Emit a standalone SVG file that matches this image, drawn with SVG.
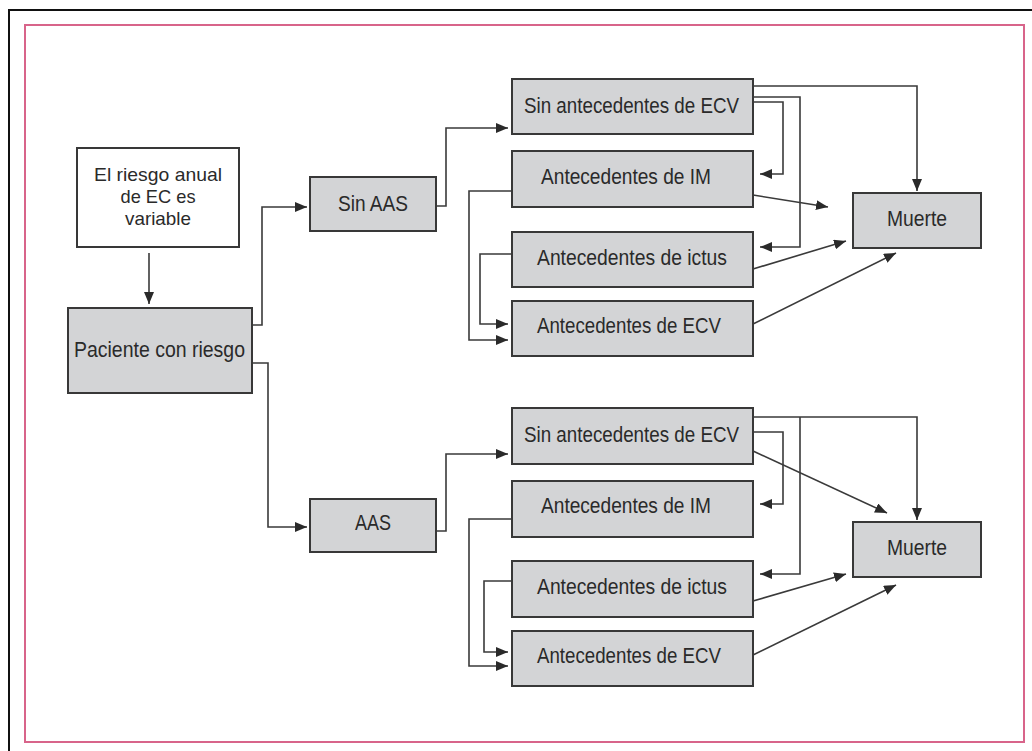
<svg xmlns="http://www.w3.org/2000/svg" width="1032" height="751" viewBox="0 0 1032 751">
<defs>
<style>
.box{fill:#d3d4d6;stroke:#383838;stroke-width:2}
.wbox{fill:#ffffff;stroke:#383838;stroke-width:2}
.t{font-family:"Liberation Sans",Arial,sans-serif;font-size:22px;fill:#2a2a2a;text-anchor:middle}
.s{font-size:19px}
.c{fill:none;stroke:#3a3a3a;stroke-width:1.6}
</style>
<marker id="ah" markerUnits="userSpaceOnUse" markerWidth="13" markerHeight="10" refX="12" refY="5" orient="auto">
<path d="M0,0 L12,5 L0,10 Z" fill="#2a2a2a"/>
</marker>
</defs>
<rect x="0" y="0" width="1032" height="751" fill="#ffffff"/>
<path d="M9,751 V10 H1032" fill="none" stroke="#111" stroke-width="2"/>
<rect x="25" y="25" width="999" height="717" fill="none" stroke="#d8648a" stroke-width="2"/>

<g id="connectors">
<path class="c" marker-end="url(#ah)" d="M149 253 V304"/>
<path class="c" marker-end="url(#ah)" d="M252 325 H262 V207 H307"/>
<path class="c" marker-end="url(#ah)" d="M252 363 H268 V527 H307"/>
<path class="c" marker-end="url(#ah)" d="M436 206 H446 V128 H508"/>
<path class="c" marker-end="url(#ah)" d="M753 86 H917 V191"/>
<path class="c" marker-end="url(#ah)" d="M753 97 H800 V247 H760"/>
<path class="c" marker-end="url(#ah)" d="M753 102 H783 V174 H760"/>
<path class="c" marker-end="url(#ah)" d="M753 195 L828 207"/>
<path class="c" marker-end="url(#ah)" d="M753 269 L846 241"/>
<path class="c" marker-end="url(#ah)" d="M753 324 L896 253"/>
<path class="c" marker-end="url(#ah)" d="M512 191 H469 V340 H508"/>
<path class="c" marker-end="url(#ah)" d="M512 254 H480 V324 H508"/>

<path class="c" marker-end="url(#ah)" d="M436 531 H446 V454 H508"/>
<path class="c" marker-end="url(#ah)" d="M753 417 H917 V520"/>
<path class="c" marker-end="url(#ah)" d="M800 417 V574 H760"/>
<path class="c" marker-end="url(#ah)" d="M753 432 H783 V504 H760"/>
<path class="c" marker-end="url(#ah)" d="M753 451 L887 513"/>
<path class="c" marker-end="url(#ah)" d="M753 601 L846 574"/>
<path class="c" marker-end="url(#ah)" d="M753 655 L896 585"/>
<path class="c" marker-end="url(#ah)" d="M512 519 H469 V666 H508"/>
<path class="c" marker-end="url(#ah)" d="M512 581 H484 V652 H508"/>
</g>

<g id="n-riesgo">
<rect class="wbox" x="77" y="148" width="162" height="99"/>
<text class="t s" x="158" y="181" textLength="128" lengthAdjust="spacingAndGlyphs">El riesgo anual</text>
<text class="t s" x="158" y="203" textLength="75" lengthAdjust="spacingAndGlyphs">de EC es</text>
<text class="t s" x="158" y="225" textLength="66" lengthAdjust="spacingAndGlyphs">variable</text>
</g>
<g id="n-paciente">
<rect class="box" x="68" y="308" width="184" height="85"/>
<text class="t" x="159.5" y="357" textLength="171" lengthAdjust="spacingAndGlyphs">Paciente con riesgo</text>
</g>
<g id="n-sinaas">
<rect class="box" x="310" y="177" width="126" height="54"/>
<text class="t" x="373" y="211" textLength="70" lengthAdjust="spacingAndGlyphs">Sin AAS</text>
</g>
<g id="n-aas">
<rect class="box" x="310" y="499" width="126" height="53"/>
<text class="t" x="373" y="530" textLength="36" lengthAdjust="spacingAndGlyphs">AAS</text>
</g>

<g id="n-sinant1">
<rect class="box" x="512" y="79" width="241" height="55"/>
<text class="t" x="631.5" y="113" textLength="215" lengthAdjust="spacingAndGlyphs">Sin antecedentes de ECV</text>
</g>
<g id="n-im1">
<rect class="box" x="512" y="151" width="241" height="56"/>
<text class="t" x="626" y="184" textLength="170" lengthAdjust="spacingAndGlyphs">Antecedentes de IM</text>
</g>
<g id="n-ictus1">
<rect class="box" x="512" y="232" width="241" height="55"/>
<text class="t" x="632" y="265" textLength="190" lengthAdjust="spacingAndGlyphs">Antecedentes de ictus</text>
</g>
<g id="n-ecv1">
<rect class="box" x="512" y="301" width="241" height="55"/>
<text class="t" x="629" y="333" textLength="184" lengthAdjust="spacingAndGlyphs">Antecedentes de ECV</text>
</g>
<g id="n-muerte1">
<rect class="box" x="853" y="193" width="128" height="55"/>
<text class="t" x="917" y="226" textLength="60" lengthAdjust="spacingAndGlyphs">Muerte</text>
</g>

<g id="n-sinant2">
<rect class="box" x="512" y="408" width="241" height="56"/>
<text class="t" x="631.5" y="442" textLength="215" lengthAdjust="spacingAndGlyphs">Sin antecedentes de ECV</text>
</g>
<g id="n-im2">
<rect class="box" x="512" y="481" width="241" height="56"/>
<text class="t" x="626" y="513" textLength="170" lengthAdjust="spacingAndGlyphs">Antecedentes de IM</text>
</g>
<g id="n-ictus2">
<rect class="box" x="512" y="561" width="241" height="56"/>
<text class="t" x="632" y="594" textLength="190" lengthAdjust="spacingAndGlyphs">Antecedentes de ictus</text>
</g>
<g id="n-ecv2">
<rect class="box" x="512" y="631" width="241" height="55"/>
<text class="t" x="629" y="663" textLength="184" lengthAdjust="spacingAndGlyphs">Antecedentes de ECV</text>
</g>
<g id="n-muerte2">
<rect class="box" x="853" y="522" width="128" height="55"/>
<text class="t" x="917" y="555" textLength="60" lengthAdjust="spacingAndGlyphs">Muerte</text>
</g>
</svg>
